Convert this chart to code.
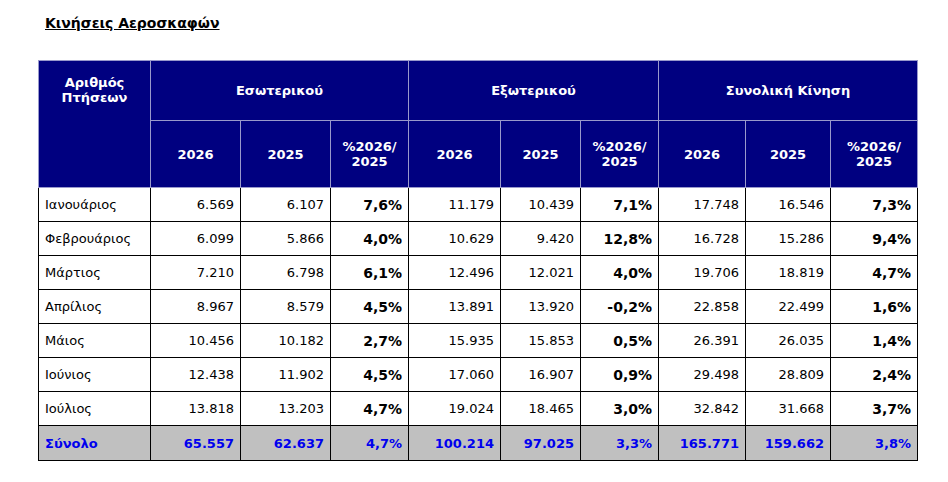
<!DOCTYPE html>
<html><head><meta charset="utf-8">
<script src="https://cdn.jsdelivr.net/npm/chart.js@4/dist/chart.umd.min.js"></script>
<style>
body{margin:0;background:#fff;font-family:"DejaVu Sans",sans-serif;}
#title{position:absolute;left:45px;top:15px;font-size:14px;font-weight:bold;text-decoration:underline;}
table{position:absolute;left:38px;top:60px;border-collapse:collapse;table-layout:fixed;font-size:13px;}
td,th{border:1px solid #000;padding:0 6px;}
th{background:#000080;color:#fff;font-weight:bold;border-color:#9999cc;}
td{text-align:right;height:33px;}
td.m{text-align:left;}
td.b{font-weight:bold;font-size:14px;}
tr.tot td{background:#c0c0c0;color:#0000ee;font-weight:bold;height:34px;}
</style></head><body>
<div id="title">Κινήσεις Αεροσκαφών</div>
<table id="t"></table>
<script>
const months=["Ιανουάριος","Φεβρουάριος","Μάρτιος","Απρίλιος","Μάιος","Ιούνιος","Ιούλιος"];
const groups=["Εσωτερικού","Εξωτερικού","Συνολική Κίνηση"];
const subHeads=["2026","2025","%2026/<br>2025"];
const dom2026=["6.569","6.099","7.210","8.967","10.456","12.438","13.818"];
const dom2025=["6.107","5.866","6.798","8.579","10.182","11.902","13.203"];
const domPct=["7,6%","4,0%","6,1%","4,5%","2,7%","4,5%","4,7%"];
const int2026=["11.179","10.629","12.496","13.891","15.935","17.060","19.024"];
const int2025=["10.439","9.420","12.021","13.920","15.853","16.907","18.465"];
const intPct=["7,1%","12,8%","4,0%","-0,2%","0,5%","0,9%","3,0%"];
const tot2026=["17.748","16.728","19.706","22.858","26.391","29.498","32.842"];
const tot2025=["16.546","15.286","18.819","22.499","26.035","28.809","31.668"];
const totPct=["7,3%","9,4%","4,7%","1,6%","1,4%","2,4%","3,7%"];
const totalRow=["Σύνολο","65.557","62.637","4,7%","100.214","97.025","3,3%","165.771","159.662","3,8%"];
const widths=[112,90,90,78,92,80,78,87,85,87];
let h='<colgroup>'+widths.map(w=>`<col style="width:${w}px">`).join('')+'</colgroup>';
h+='<tr style="height:60px"><th rowspan="2" style="vertical-align:top;padding-top:14px">Αριθμός<br>Πτήσεων</th>'+groups.map(g=>`<th colspan="3">${g}</th>`).join('')+'</tr>';
h+='<tr style="height:67px">'+groups.map(()=>subHeads.map(s=>`<th>${s}</th>`).join('')).join('')+'</tr>';
const cols=[dom2026,dom2025,domPct,int2026,int2025,intPct,tot2026,tot2025,totPct];
months.forEach((m,i)=>{
 h+='<tr><td class="m">'+m+'</td>'+cols.map((c,j)=>`<td${j%3==2?' class="b"':''}>${c[i]}</td>`).join('')+'</tr>';
});
h+='<tr class="tot">'+totalRow.map((v,j)=>`<td${j==0?' class="m"':''}>${v}</td>`).join('')+'</tr>';
document.getElementById('t').innerHTML=h;
</script></body></html>
